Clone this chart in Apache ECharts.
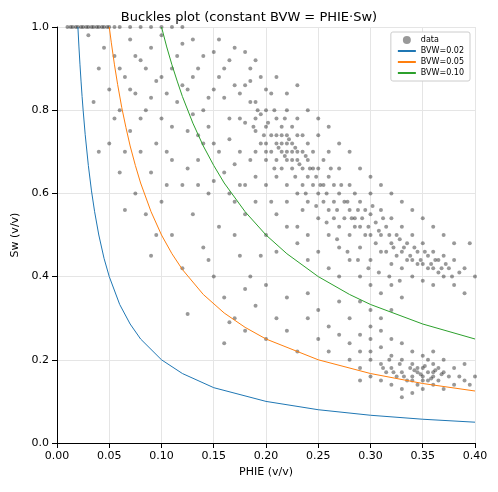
<!DOCTYPE html>
<html><head><meta charset="utf-8">
<script src="https://cdn.jsdelivr.net/npm/echarts@6/dist/echarts.min.js"></script>
<style>html,body{margin:0;padding:0;background:#fff}#c{width:498px;height:492px}</style>
</head><body><div id="c"></div>
<script>
// [PHIE, Sw] samples
const samples = [
[0.01,1],[0.013,1],[0.015,1],[0.018,1],[0.02,1],[0.023,1],[0.025,1],[0.028,1],[0.03,1],[0.033,1],[0.035,1],[0.038,1],[0.04,1],[0.043,1],[0.045,1],[0.048,1],[0.05,1],[0.055,1],[0.06,1],[0.07,1],[0.08,1],[0.09,1],[0.1,1],[0.11,1],[0.12,1],
[0.03,0.98],[0.035,0.82],[0.04,0.9],[0.045,0.95],[0.05,0.85],[0.05,0.72],[0.055,0.93],[0.06,0.8],[0.06,0.65],[0.065,0.88],[0.07,0.97],[0.07,0.75],[0.075,0.6],[0.075,0.84],[0.08,0.92],[0.08,0.7],[0.085,0.55],[0.085,0.8],[0.09,0.95],[0.09,0.65],[0.095,0.87],[0.1,0.78],[0.1,0.58],[0.1,0.98],[0.105,0.7],[0.11,0.9],[0.11,0.5],[0.115,0.82],[0.12,0.62],[0.12,0.96],[0.125,0.75],[0.13,0.88],[0.13,0.55],[0.135,0.68],[0.14,0.93],[0.14,0.8],[0.145,0.6],[0.15,0.85],[0.15,0.72],[0.155,0.97],[0.16,0.65],[0.16,0.9],[0.165,0.78],[0.17,0.58],[0.17,0.86],[0.175,0.7],[0.18,0.94],[0.18,0.62],[0.185,0.82],[0.19,0.75],[0.195,0.88],[0.2,0.68],
[0.09,0.45],[0.12,0.42],[0.14,0.47],[0.04,0.7],[0.065,0.56],[0.095,0.5],[0.105,0.62],[0.125,0.31],[0.155,0.52],[0.145,0.44],[0.175,0.45],[0.165,0.29],
[0.06,0.9],[0.07,0.85],[0.08,0.78],[0.09,0.83],[0.1,0.88],[0.11,0.76],[0.12,0.86],[0.13,0.97],[0.14,0.72],[0.15,0.94],[0.16,0.83],[0.17,0.95],[0.18,0.77],[0.19,0.92],[0.2,0.85],[0.13,0.79],[0.11,0.68],[0.15,0.63],[0.17,0.67],[0.19,0.64],
[0.115,0.93],[0.125,0.85],[0.135,0.9],[0.145,0.83],[0.155,0.88],[0.165,0.92],[0.175,0.84],[0.185,0.87],[0.145,0.76],[0.155,0.7],[0.165,0.73],[0.125,0.66],[0.135,0.74],[0.105,0.84],[0.095,0.72],[0.085,0.9],[0.075,0.93],[0.065,0.7],[0.055,0.78],[0.135,0.62],[0.165,0.6],[0.185,0.68],[0.195,0.79],[0.175,0.78],
// main band
[0.19,0.82],[0.19,0.78],[0.195,0.72],[0.2,0.8],[0.2,0.76],[0.2,0.72],[0.205,0.84],[0.205,0.7],[0.21,0.78],[0.21,0.74],[0.21,0.68],[0.21,0.64],[0.215,0.76],[0.215,0.72],[0.215,0.66],[0.22,0.8],[0.22,0.74],[0.22,0.7],[0.22,0.68],[0.22,0.62],[0.225,0.76],[0.225,0.72],[0.225,0.66],[0.23,0.78],[0.23,0.7],[0.23,0.68],[0.23,0.6],[0.235,0.74],[0.235,0.66],[0.235,0.56],[0.24,0.72],[0.24,0.68],[0.24,0.64],[0.24,0.58],[0.245,0.7],[0.245,0.62],[0.25,0.74],[0.25,0.66],[0.25,0.6],[0.25,0.54],[0.255,0.68],[0.255,0.58],[0.26,0.7],[0.26,0.64],[0.26,0.56],[0.26,0.5],[0.265,0.62],[0.265,0.54],[0.27,0.66],[0.27,0.6],[0.27,0.52],[0.27,0.47],[0.275,0.58],[0.28,0.62],[0.28,0.56],[0.28,0.5],[0.285,0.6],[0.285,0.54],[0.29,0.58],[0.29,0.52],[0.29,0.47],[0.295,0.56],[0.3,0.6],[0.3,0.55],[0.3,0.5],[0.3,0.44],[0.305,0.53],[0.31,0.56],[0.31,0.5],[0.31,0.46],[0.315,0.52],[0.32,0.54],[0.32,0.48],[0.32,0.43],[0.325,0.5],[0.33,0.52],[0.33,0.46],[0.33,0.42],[0.335,0.48],[0.34,0.5],[0.34,0.44],[0.34,0.4],[0.345,0.46],[0.35,0.48],[0.35,0.43],[0.35,0.39],[0.355,0.45],[0.36,0.46],[0.36,0.42],[0.36,0.38],[0.365,0.44],[0.37,0.45],[0.37,0.4],[0.375,0.42],[0.38,0.44],[0.38,0.38],[0.385,0.41],[0.39,0.42],[0.39,0.36],[0.395,0.48],[0.4,0.4],
[0.18,0.86],[0.185,0.9],[0.19,0.7],[0.2,0.62],[0.205,0.58],[0.21,0.88],[0.22,0.84],[0.23,0.86],[0.24,0.8],[0.25,0.78],[0.26,0.76],[0.27,0.72],[0.28,0.7],[0.29,0.66],[0.3,0.64],[0.31,0.62],[0.32,0.6],[0.33,0.58],[0.34,0.56],[0.35,0.54],[0.36,0.52],[0.37,0.5],[0.38,0.48],
[0.2,0.5],[0.21,0.46],[0.22,0.52],[0.23,0.48],[0.24,0.44],[0.25,0.46],[0.26,0.42],[0.27,0.4],[0.28,0.44],[0.29,0.4],[0.3,0.38],[0.31,0.36],[0.32,0.38],[0.33,0.35],[0.21,0.55],[0.22,0.58],[0.23,0.52],[0.24,0.5],[0.19,0.58],[0.18,0.55],[0.17,0.5],[0.195,0.45],[0.185,0.4],[0.175,0.62],
[0.205,0.74],[0.215,0.7],[0.225,0.68],[0.215,0.74],[0.225,0.7],[0.235,0.7],[0.2,0.7],[0.21,0.72],[0.22,0.72],[0.23,0.74],[0.235,0.62],[0.245,0.66],[0.255,0.62],[0.265,0.58],[0.275,0.54],[0.285,0.52],[0.295,0.5],[0.305,0.48],[0.315,0.46],[0.325,0.45],[0.335,0.44],[0.345,0.43],[0.355,0.42],[0.365,0.41],
[0.212,0.71],[0.218,0.69],[0.222,0.73],[0.228,0.71],[0.232,0.67],[0.238,0.69],[0.242,0.66],[0.248,0.64],[0.252,0.62],[0.258,0.6],[0.262,0.66],[0.268,0.56],[0.272,0.62],[0.278,0.58],[0.282,0.54],[0.288,0.56],[0.292,0.54],[0.298,0.52],[0.302,0.57],[0.308,0.51],[0.312,0.54],[0.318,0.5],[0.322,0.47],[0.328,0.49],[0.332,0.47],[0.338,0.45],[0.342,0.47],[0.348,0.44],[0.352,0.46],[0.358,0.43],[0.362,0.44],[0.368,0.42],[0.372,0.43],[0.378,0.4],[0.202,0.77],[0.208,0.8],[0.198,0.74],[0.192,0.8],[0.188,0.76],[0.208,0.66],[0.218,0.78],[0.228,0.64],[0.238,0.6],[0.248,0.57],[0.258,0.53],[0.268,0.49],[0.278,0.46],[0.288,0.44],[0.298,0.42],[0.308,0.41],[0.318,0.4],[0.328,0.39],
// sparse middle
[0.15,0.4],[0.16,0.35],[0.17,0.3],[0.18,0.27],[0.19,0.33],[0.2,0.38],[0.2,0.25],[0.21,0.3],[0.22,0.35],[0.22,0.27],[0.23,0.22],[0.24,0.3],[0.24,0.36],[0.25,0.25],[0.25,0.32],[0.26,0.28],[0.26,0.22],[0.27,0.34],[0.27,0.26],[0.28,0.24],[0.28,0.3],[0.29,0.34],[0.29,0.22],[0.3,0.28],[0.3,0.32],[0.31,0.3],[0.32,0.32],[0.16,0.24],[0.18,0.37],
// lower-right cluster
[0.28,0.2],[0.29,0.18],[0.29,0.26],[0.3,0.16],[0.3,0.22],[0.3,0.25],[0.31,0.15],[0.31,0.19],[0.31,0.23],[0.315,0.17],[0.32,0.14],[0.32,0.18],[0.32,0.21],[0.325,0.16],[0.33,0.13],[0.33,0.17],[0.33,0.2],[0.33,0.24],[0.335,0.15],[0.34,0.12],[0.34,0.16],[0.34,0.19],[0.34,0.22],[0.345,0.14],[0.345,0.18],[0.35,0.13],[0.35,0.16],[0.35,0.18],[0.35,0.21],[0.355,0.15],[0.355,0.17],[0.36,0.14],[0.36,0.16],[0.36,0.19],[0.36,0.22],[0.365,0.15],[0.365,0.18],[0.37,0.13],[0.37,0.17],[0.37,0.2],[0.375,0.16],[0.38,0.14],[0.38,0.18],[0.385,0.16],[0.39,0.15],[0.39,0.19],[0.395,0.14],[0.4,0.16],[0.355,0.2],[0.345,0.17],[0.34,0.15],[0.35,0.15],[0.36,0.17],[0.31,0.27],[0.3,0.2],[0.32,0.25],[0.29,0.15],[0.33,0.11],
[0.342,0.175],[0.348,0.165],[0.352,0.185],[0.358,0.155],[0.362,0.175],[0.368,0.165],[0.338,0.18],[0.332,0.16],[0.328,0.19],[0.322,0.17],[0.318,0.2],[0.312,0.18]
];
const curveX02 = [0.02,0.021,0.022,0.023,0.024,0.025,0.027,0.03,0.033,0.036,0.04,0.045,0.05,0.06,0.07,0.08,0.1,0.12,0.15,0.2,0.25,0.3,0.35,0.4];
const curveY02 = [1,0.952,0.909,0.870,0.833,0.8,0.741,0.667,0.606,0.556,0.5,0.444,0.4,0.333,0.286,0.25,0.2,0.167,0.133,0.1,0.08,0.0667,0.0571,0.05];
const curveX05 = [0.05,0.052,0.055,0.058,0.062,0.066,0.07,0.075,0.08,0.09,0.1,0.11,0.12,0.14,0.16,0.18,0.2,0.25,0.3,0.35,0.4];
const curveY05 = [1,0.962,0.909,0.862,0.806,0.758,0.714,0.667,0.625,0.556,0.5,0.455,0.417,0.357,0.3125,0.278,0.25,0.2,0.167,0.143,0.125];
const curveX10 = [0.1,0.105,0.11,0.115,0.12,0.13,0.14,0.15,0.16,0.18,0.2,0.22,0.25,0.28,0.3,0.35,0.4];
const curveY10 = [1,0.952,0.909,0.870,0.833,0.769,0.714,0.667,0.625,0.556,0.5,0.455,0.4,0.357,0.333,0.286,0.25];
const zip = (a,b)=>a.map((v,i)=>[v,b[i]]);
const ff = 'DejaVu Sans';
const line = (name,xs,ys,color)=>({name,type:'line',data:zip(xs,ys),symbol:'none',smooth:false,lineStyle:{width:1,color},itemStyle:{color},z:3});
const chart = echarts.init(document.getElementById('c'));
chart.setOption({
  animation:false,
  textStyle:{fontFamily:ff},
  title:{text:'Buckles plot (constant BVW = PHIE·Sw)',left:'center',top:6,textStyle:{fontFamily:ff,fontSize:13,fontWeight:'normal',color:'#000'}},
  grid:{left:57,right:23,top:27,bottom:49},
  legend:{orient:'vertical',right:28,top:32,itemWidth:18,itemHeight:8,itemGap:3,borderColor:'#ccc',borderWidth:1,borderRadius:2,padding:[4,6],backgroundColor:'#fff',textStyle:{fontSize:8,color:'#000',fontFamily:ff},
    data:[{name:'data',icon:'circle'},{name:'BVW=0.02',itemStyle:{opacity:0}},{name:'BVW=0.05',itemStyle:{opacity:0}},{name:'BVW=0.10',itemStyle:{opacity:0}}]},
  xAxis:{type:'value',min:0,max:0.4,interval:0.05,name:'PHIE (v/v)',nameLocation:'middle',nameGap:24,nameTextStyle:{fontSize:11,color:'#000'},
    axisLine:{lineStyle:{color:'#000'}},axisTick:{lineStyle:{color:'#000'}},axisLabel:{color:'#000',fontSize:11,formatter:v=>v.toFixed(2)},splitLine:{lineStyle:{color:'#e5e5e5'}}},
  yAxis:{type:'value',min:0,max:1,interval:0.2,name:'Sw (v/v)',nameLocation:'middle',nameGap:34,nameTextStyle:{fontSize:11,color:'#000'},
    axisLine:{show:true,lineStyle:{color:'#000'}},axisTick:{show:true,lineStyle:{color:'#000'}},axisLabel:{color:'#000',fontSize:11,formatter:v=>v.toFixed(1)},splitLine:{lineStyle:{color:'#e5e5e5'}}},
  series:[
    {name:'data',type:'scatter',data:samples,symbolSize:4,itemStyle:{color:'rgba(0,0,0,0.5)'},z:2},
    line('BVW=0.02',curveX02,curveY02,'#1f77b4'),
    line('BVW=0.05',curveX05,curveY05,'#ff7f0e'),
    line('BVW=0.10',curveX10,curveY10,'#2ca02c')
  ]
});
</script></body></html>
